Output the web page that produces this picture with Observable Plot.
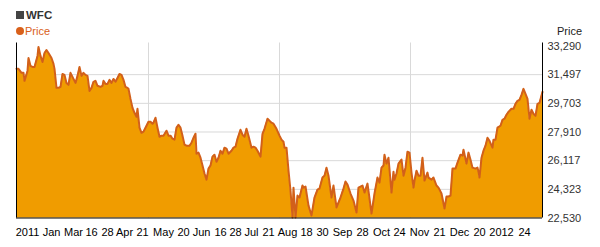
<!DOCTYPE html>
<html>
<head>
<meta charset="utf-8">
<script src="https://cdn.jsdelivr.net/npm/d3@7"></script>
<script src="https://cdn.jsdelivr.net/npm/@observablehq/plot@0.6"></script>
<style>
  html, body { margin: 0; padding: 0; background: #fff; }
  #wrap { position: relative; width: 600px; height: 247px; font-family: "Liberation Sans", Arial, sans-serif; }
  #chart { position: absolute; left: 0; top: 0; }
  .lg { position: absolute; font-size: 11px; line-height: 12px; white-space: nowrap; }
</style>
</head>
<body>
<div id="wrap">
  <div id="chart"></div>
  <div class="lg" style="left:16px; top:9px; color:#333; font-weight:bold; font-size:11.5px;"><span style="display:inline-block;width:8px;height:8px;background:#444;margin-right:2px;vertical-align:0px;"></span>WFC</div>
  <div class="lg" style="left:16px; top:25px; color:#d9601a;"><span style="display:inline-block;width:8px;height:8px;border-radius:50%;background:#d9601a;margin-right:1px;vertical-align:0px;"></span>Price</div>
  <div class="lg" style="left:557px; top:25px; color:#222;">Price</div>
</div>
<script>
// Session offsets (time position along the period) and closing prices
const t = [0,2,5,7,8,11,12,14,16,18,21,22,24,26,28,30,32,35,37,38,40,42,44,46,48,50,52,54,56,59,61,63,65,67,69,71,73,75,77,79,81,84,86,87,89,91,93,95,97,99,101,103,105,107,109,111,112,114,116,118,120,121,123,125,127,129,132,134,136,137,139,141,143,145,147,150,152,154,156,158,160,162,164,166,168,170,173,175,177,179,180,182,184,186,188,190,192,194,196,198,200,202,204,206,208,210,212,215,217,219,221,224,226,228,230,232,235,237,239,241,244,246,248,251,253,255,257,260,263,265,267,268,270,272,274,276,277,279,281,283,286,287,289,292,295,298,301,303,306,308,310,312,315,317,320,324,327,329,331,334,337,340,342,346,348,351,353,355,358,361,363,365,367,368,370,372,375,377,378,380,382,385,387,389,391,393,395,397,398,400,402,404,406,408,411,412,415,417,420,422,425,428,430,432,434,436,439,441,444,446,447,450,452,454,456,459,461,462,463,465,467,469,471,473,476,477,479,481,484,486,488,490,492,495,497,499,501,503,505,507,509,511,513,515,517,519,521,523,526];
const price = [31860,31860,31610,31610,31110,31730,32540,32040,31980,31980,32670,33230,32670,32290,32850,33040,32850,32540,32170,31860,30670,30670,30730,31540,31480,30980,30860,31610,31360,30980,31420,31980,31420,31610,31480,31420,30480,30670,31050,31110,30800,30730,30800,31110,30920,30920,31170,30980,31230,31050,31290,31540,31480,31170,30730,30670,30610,29980,29420,29110,28860,29360,28180,27860,27930,28180,28550,28550,28430,28490,28800,28180,27610,27680,27680,27990,27680,27680,27490,27430,28180,28360,28180,27680,27120,27050,27050,27240,27550,27800,26550,26620,26300,25810,25310,24930,25620,25810,26370,26490,26050,26300,26740,26550,26930,26870,26550,26740,26930,26990,27490,28050,27740,27610,28110,27680,26930,26990,26930,26740,26370,27800,28110,28740,28610,28490,28430,28110,27680,27430,27300,26930,26930,25490,24250,22560,24430,22560,23930,23810,24560,24430,24500,23310,22690,23810,24310,24370,25060,25180,25680,25180,23810,24560,23190,23810,24370,24810,24620,24060,23620,22870,24430,24560,24120,24680,23750,22810,24060,25060,24740,25680,25810,26490,25930,26300,24120,25430,24930,25310,25930,26180,25180,25680,26680,26620,25370,24430,24870,25490,25180,25180,26300,24870,25370,25060,24930,25060,24560,24430,24060,23120,23870,23870,23930,25620,25620,25990,26490,26430,26800,25930,26620,26180,25680,25620,25680,25430,25060,26300,26740,27050,27550,27360,26930,27430,27430,28180,28300,28670,28740,28990,29170,29360,29360,29670,29860,29920,30230,30610,30300,29980,28740,29300,29050,28920,29670,29730,30420];

// X-axis tick labels and where they sit along the period
const xTickLabels = ["2011","Jan","Mar","16","28","Apr","21","May","20","Jun","16","28","Jul","21","Aug","18","30","Sep","28","Oct","24","Nov","21","Dec","20","2012","24"];
const xTickPos = [11,35,57,75,91,108,126,147,167,185,204,219,235,252,271,290,306,326,346,365,383,403,423,443,463,485,508];

// Y-axis ticks
const yTicks = [22530,24323,26117,27910,29703,31497,33290];
// Vertical grid divisions
const xGrid = [132,263,394];

const data = t.map((d, i) => ({t: d, price: price[i]}));
const labelOf = new Map(xTickPos.map((p, i) => [p, xTickLabels[i]]));

const chart = Plot.plot({
  width: 600,
  height: 247,
  marginLeft: 16,
  marginRight: 58,
  marginTop: 42.5,
  marginBottom: 29.5,
  style: {fontFamily: '"Liberation Sans", Arial, sans-serif', fontSize: "11px", background: "transparent", overflow: "visible"},
  x: {domain: [0, 526]},
  y: {domain: [22530, 33477]},
  marks: [
    Plot.ruleY(yTicks.slice(1, -1), {stroke: "#d9d9d9", strokeWidth: 1}),
    Plot.ruleX(xGrid, {stroke: "#d9d9d9", strokeWidth: 1}),
    Plot.areaY(data, {x: "t", y1: 22530, y2: "price", fill: "#f09c00"}),
    Plot.lineY(data, {x: "t", y: "price", stroke: "#d2601a", strokeWidth: 2, strokeLinejoin: "round"}),
    Plot.ruleX([0, 526], {stroke: "#000", strokeWidth: 1}),
    Plot.ruleY([22530], {stroke: "#000", strokeWidth: 1}),
    Plot.axisY({anchor: "right", ticks: yTicks, tickSize: 0, tickPadding: 5, tickFormat: d3.format(","), label: null, fill: "#333"}),
    Plot.axisX({anchor: "bottom", ticks: xTickPos, tickSize: 0, tickPadding: 10, tickFormat: d => labelOf.get(d), label: null, fill: "#000"})
  ]
});
document.getElementById("chart").appendChild(chart);
</script>
</body>
</html>
